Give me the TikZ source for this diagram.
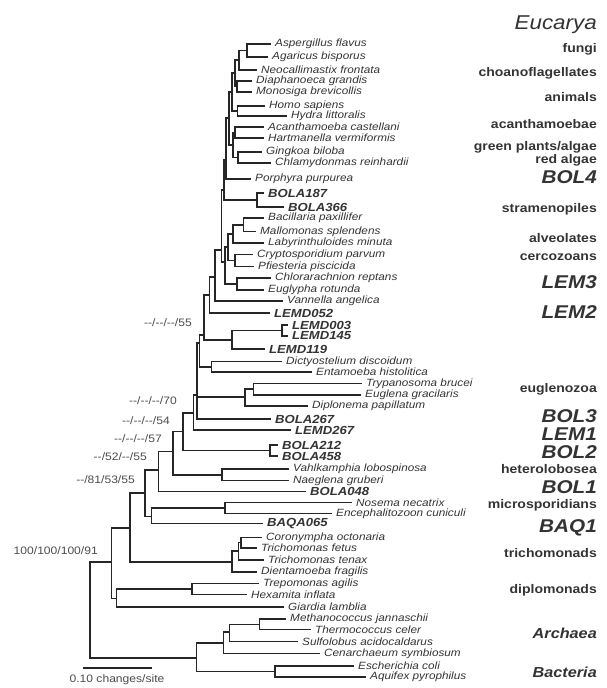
\documentclass[tikz,border=0pt]{standalone}
\usepackage{fontspec}
\newfontfamily\treefont[FakeStretch=1.12]{Liberation Sans}
\usepackage{tikz}
\tikzset{branch/.style={line width=1.8pt, draw=black!85},
  taxon/.style={anchor=west, inner xsep=4pt, inner ysep=0pt, text=black!80, font=\treefont\itshape\fontsize{10.5}{10.5}\selectfont},
  clone/.style={taxon, font=\treefont\bfseries\itshape\fontsize{11.7}{11.7}\selectfont},
  group/.style={anchor=east, inner sep=0pt, text=black!80, font=\treefont\bfseries\fontsize{12.5}{12.5}\selectfont},
  lineage/.style={group, font=\treefont\bfseries\itshape\fontsize{18.5}{18.5}\selectfont},
  realm/.style={group, font=\treefont\bfseries\itshape\fontsize{14.5}{14.5}\selectfont},
  boot/.style={anchor=east, inner sep=0pt, text=black!70, font=\treefont\fontsize{10.8}{10.8}\selectfont},
}

\begin{document}
\begin{tikzpicture}[x=1pt, y=-1pt]
        \useasboundingbox (0,0) rectangle (606,688);

        % leaves
        \node[taxon] (asp) at (271,44) {Aspergillus flavus};
        \node[taxon] (aga) at (268,57) {Agaricus bisporus};
        \node[taxon] (neo) at (257,70) {Neocallimastix frontata};
        \node[taxon] (dia) at (252,81) {Diaphanoeca grandis};
        \node[taxon] (mon) at (252,92) {Monosiga brevicollis};
        \node[taxon] (hom) at (265,106) {Homo sapiens};
        \node[taxon] (hyd) at (287,116) {Hydra littoralis};
        \node[taxon] (aca) at (264,127) {Acanthamoeba castellani};
        \node[taxon] (har) at (264,138) {Hartmanella vermiformis};
        \node[taxon] (gin) at (262,152) {Gingkoa biloba};
        \node[taxon] (chl) at (271,163) {Chlamydonmas reinhardii};
        \node[taxon] (por) at (251,179) {Porphyra purpurea};
        \node[clone] (b187) at (264,193) {BOLA187};
        \node[clone] (b366) at (284,207) {BOLA366};
        \node[taxon] (bac) at (264,218) {Bacillaria paxillifer};
        \node[taxon] (mal) at (256,231.5) {Mallomonas splendens};
        \node[taxon] (lab) at (264,243) {Labyrinthuloides minuta};
        \node[taxon] (cry) at (253,254.5) {Cryptosporidium parvum};
        \node[taxon] (pfi) at (254,266.5) {Pfiesteria piscicida};
        \node[taxon] (chr) at (271,278) {Chlorarachnion reptans};
        \node[taxon] (egy) at (264,290) {Euglypha rotunda};
        \node[taxon] (van) at (283,301) {Vannella angelica};
        \node[clone] (l052) at (270,313) {LEMD052};
        \node[clone] (l003) at (288,325) {LEMD003};
        \node[clone] (l145) at (288,336) {LEMD145};
        \node[clone] (l119) at (265,349) {LEMD119};
        \node[taxon] (dic) at (282,361.5) {Dictyostelium discoidum};
        \node[taxon] (ent) at (312,372) {Entamoeba histolitica};
        \node[taxon] (try) at (362,383.5) {Trypanosoma brucei};
        \node[taxon] (eug) at (361,395) {Euglena gracilaris};
        \node[taxon] (dip) at (308,406) {Diplonema papillatum};
        \node[clone] (b267) at (271,419) {BOLA267};
        \node[clone] (l267) at (291,430) {LEMD267};
        \node[clone] (b212) at (278,445) {BOLA212};
        \node[clone] (b458) at (278,456) {BOLA458};
        \node[taxon] (vah) at (289,469) {Vahlkamphia lobospinosa};
        \node[taxon] (nae) at (289,480.5) {Naeglena gruberi};
        \node[clone] (b048) at (306,491.5) {BOLA048};
        \node[taxon] (nos) at (352,502.5) {Nosema necatrix};
        \node[taxon] (enc) at (332,513.5) {Encephalitozoon cuniculi};
        \node[clone] (q065) at (263,523.5) {BAQA065};
        \node[taxon] (cor) at (262,537.5) {Coronympha octonaria};
        \node[taxon] (tfe) at (257,548) {Trichomonas fetus};
        \node[taxon] (tte) at (264,560) {Trichomonas tenax};
        \node[taxon] (die) at (257,572) {Dientamoeba fragilis};
        \node[taxon] (tre) at (259,583.5) {Trepomonas agilis};
        \node[taxon] (hex) at (247,594.5) {Hexamita inflata};
        \node[taxon] (gia) at (284,607) {Giardia lamblia};
        \node[taxon] (met) at (286,619) {Methanococcus jannaschii};
        \node[taxon] (the) at (311,629.5) {Thermococcus celer};
        \node[taxon] (sul) at (298,641.5) {Sulfolobus acidocaldarus};
        \node[taxon] (cen) at (320,653.5) {Cenarchaeum symbiosum};
        \node[taxon] (eco) at (354,666) {Escherichia coli};
        \node[taxon] (aqu) at (366,677) {Aquifex pyrophilus};

        % inner nodes
        \coordinate (nF1) at (247,50.5);
        \coordinate (nF) at (239,60);
        \coordinate (nCh) at (237,86.5);
        \coordinate (nFC) at (235,73);
        \coordinate (nAn) at (237.5,111);
        \coordinate (nOp) at (232,92);
        \coordinate (nAc) at (235,132.5);
        \coordinate (nGr) at (238,157.5);
        \coordinate (nAG) at (233,145);
        \coordinate (nCr) at (229,118);
        \coordinate (nE1) at (226,160);
        \coordinate (nB4) at (257,200);
        \coordinate (nE2) at (224,190);
        \coordinate (nBM) at (243.5,225);
        \coordinate (nSt) at (233,234);
        \coordinate (nAl) at (235,260.5);
        \coordinate (nCe) at (237,284);
        \coordinate (nSA) at (228,247);
        \coordinate (nSC) at (225,262);
        \coordinate (nE3) at (221.5,250);
        \coordinate (nV) at (215,277);
        \coordinate (nL3) at (209.5,295);
        \coordinate (nL2a) at (282,330.5);
        \coordinate (nL2) at (232,340);
        \coordinate (nQ) at (204,335);
        \coordinate (nDE) at (211.5,367);
        \coordinate (nP) at (199.5,343);
        \coordinate (nTE) at (253.5,389);
        \coordinate (nEu) at (245,397);
        \coordinate (nP2) at (197,395);
        \coordinate (n70) at (193.5,413);
        \coordinate (nB2) at (270,450.5);
        \coordinate (n54) at (183,431.5);
        \coordinate (nHe) at (222,475);
        \coordinate (n57) at (173,451.5);
        \coordinate (n52) at (158.5,470);
        \coordinate (nMi) at (225,508);
        \coordinate (nMB) at (151.5,516.5);
        \coordinate (n81) at (145,493);
        \coordinate (nT1) at (241,542.5);
        \coordinate (nT2) at (238.5,551);
        \coordinate (nTr) at (232,562);
        \coordinate (nB) at (130,528);
        \coordinate (nTH) at (192,589);
        \coordinate (nDi) at (116.5,598.5);
        \coordinate (nA) at (111.5,562);
        \coordinate (nMT) at (259.5,624.5);
        \coordinate (nMS) at (229.5,632);
        \coordinate (nAr) at (223.5,643);
        \coordinate (nBa) at (275,671.5);
        \coordinate (nO) at (196.5,658);
        \coordinate (root) at (90,610);

        \draw[branch] (nF1) |- (asp.west) (nF1) |- (aga.west)
                (nF) |- (nF1) (nF) |- (neo.west)
                (nCh) |- (dia.west) (nCh) |- (mon.west)
                (nFC) |- (nF) (nFC) |- (nCh)
                (nAn) |- (hom.west) (nAn) |- (hyd.west)
                (nOp) |- (nFC) (nOp) |- (nAn)
                (nAc) |- (aca.west) (nAc) |- (har.west)
                (nGr) |- (gin.west) (nGr) |- (chl.west)
                (nAG) |- (nAc) (nAG) |- (nGr)
                (nCr) |- (nOp) (nCr) |- (nAG)
                (nE1) |- (nCr) (nE1) |- (por.west)
                (nB4) |- (b187.west) (nB4) |- (b366.west)
                (nE2) |- (nE1) (nE2) |- (nB4)
                (nBM) |- (bac.west) (nBM) |- (mal.west)
                (nSt) |- (nBM) (nSt) |- (lab.west)
                (nAl) |- (cry.west) (nAl) |- (pfi.west)
                (nCe) |- (chr.west) (nCe) |- (egy.west)
                (nSA) |- (nSt) (nSA) |- (nAl)
                (nSC) |- (nSA) (nSC) |- (nCe)
                (nE3) |- (nE2) (nE3) |- (nSC)
                (nV) |- (nE3) (nV) |- (van.west)
                (nL3) |- (nV) (nL3) |- (l052.west)
                (nL2a) |- (l003.west) (nL2a) |- (l145.west)
                (nL2) |- (nL2a) (nL2) |- (l119.west)
                (nQ) |- (nL3) (nQ) |- (nL2)
                (nDE) |- (dic.west) (nDE) |- (ent.west)
                (nP) |- (nQ) (nP) |- (nDE)
                (nTE) |- (try.west) (nTE) |- (eug.west)
                (nEu) |- (nTE) (nEu) |- (dip.west)
                (nP2) |- (nP) (nP2) |- (nEu) (nP2) |- (b267.west)
                (n70) |- (nP2) (n70) |- (l267.west)
                (nB2) |- (b212.west) (nB2) |- (b458.west)
                (n54) |- (n70) (n54) |- (nB2)
                (nHe) |- (vah.west) (nHe) |- (nae.west)
                (n57) |- (n54) (n57) |- (nHe)
                (n52) |- (n57) (n52) |- (b048.west)
                (nMi) |- (nos.west) (nMi) |- (enc.west)
                (nMB) |- (nMi) (nMB) |- (q065.west)
                (n81) |- (n52) (n81) |- (nMB)
                (nT1) |- (cor.west) (nT1) |- (tfe.west)
                (nT2) |- (nT1) (nT2) |- (tte.west)
                (nTr) |- (nT2) (nTr) |- (die.west)
                (nB) |- (n81) (nB) |- (nTr)
                (nTH) |- (tre.west) (nTH) |- (hex.west)
                (nDi) |- (nTH) (nDi) |- (gia.west)
                (nA) |- (nB) (nA) |- (nDi)
                (nMT) |- (met.west) (nMT) |- (the.west)
                (nMS) |- (nMT) (nMS) |- (sul.west)
                (nAr) |- (nMS) (nAr) |- (cen.west)
                (nBa) |- (eco.west) (nBa) |- (aqu.west)
                (nO) |- (nAr) (nO) |- (nBa)
                (root) |- (nA) (root) |- (nO);

        % support values
        \node[boot] (s55) at (192,323) {-{}-/-{}-/-{}-/55};
        \node[boot] (s70) at (177,401) {-{}-/-{}-/-{}-/70};
        \node[boot] (s54) at (170,421) {-{}-/-{}-/-{}-/54};
        \node[boot] (s57) at (162,439) {-{}-/-{}-/-{}-/57};
        \node[boot] (s52) at (147,457) {-{}-/52/-{}-/55};
        \node[boot] (s81) at (135,480) {-{}-/81/53/55};
        \node[boot] (s100) at (98,551) {100/100/100/91};

        % groups
        \node[group, font=\treefont\itshape\fontsize{20}{20}\selectfont] (euc) at (597,25) {Eucarya};
        \node[group] (fun) at (597,49) {fungi};
        \node[group] (cho) at (597,73) {choanoflagellates};
        \node[group] (ani) at (597,97) {animals};
        \node[group] (acb) at (597,124) {acanthamoebae};
        \node[group] (grn) at (597,147) {green plants/algae};
        \node[group] (red) at (597,160) {red algae};
        \node[lineage] (bol4) at (597,177) {BOL4};
        \node[group] (str) at (597,209) {stramenopiles};
        \node[group] (alv) at (597,238) {alveolates};
        \node[group] (cer) at (597,257) {cercozoans};
        \node[lineage] (lem3) at (597,282) {LEM3};
        \node[lineage] (lem2) at (597,312) {LEM2};
        \node[group] (egz) at (597,389) {euglenozoa};
        \node[lineage] (bol3) at (597,416) {BOL3};
        \node[lineage] (lem1) at (597,434) {LEM1};
        \node[lineage] (bol2) at (597,452.5) {BOL2};
        \node[group] (het) at (597,469.5) {heterolobosea};
        \node[lineage] (bol1) at (597,487) {BOL1};
        \node[group] (mic) at (597,505) {microsporidians};
        \node[lineage] (baq1) at (597,528) {BAQ1};
        \node[group] (tri) at (597,553) {trichomonads};
        \node[group] (dpl) at (597,590) {diplomonads};
        \node[realm] (arc) at (597,633) {Archaea};
        \node[realm] (bact) at (597,672) {Bacteria};

        % scale
        \coordinate (sc0) at (83,668);
        \coordinate (sc1) at (152,668);
        \draw[branch] (sc0) -- (sc1);
        \node[boot, anchor=center] (sct) at (117,680) {0.10 changes/site};
    \end{tikzpicture}
\end{document}
